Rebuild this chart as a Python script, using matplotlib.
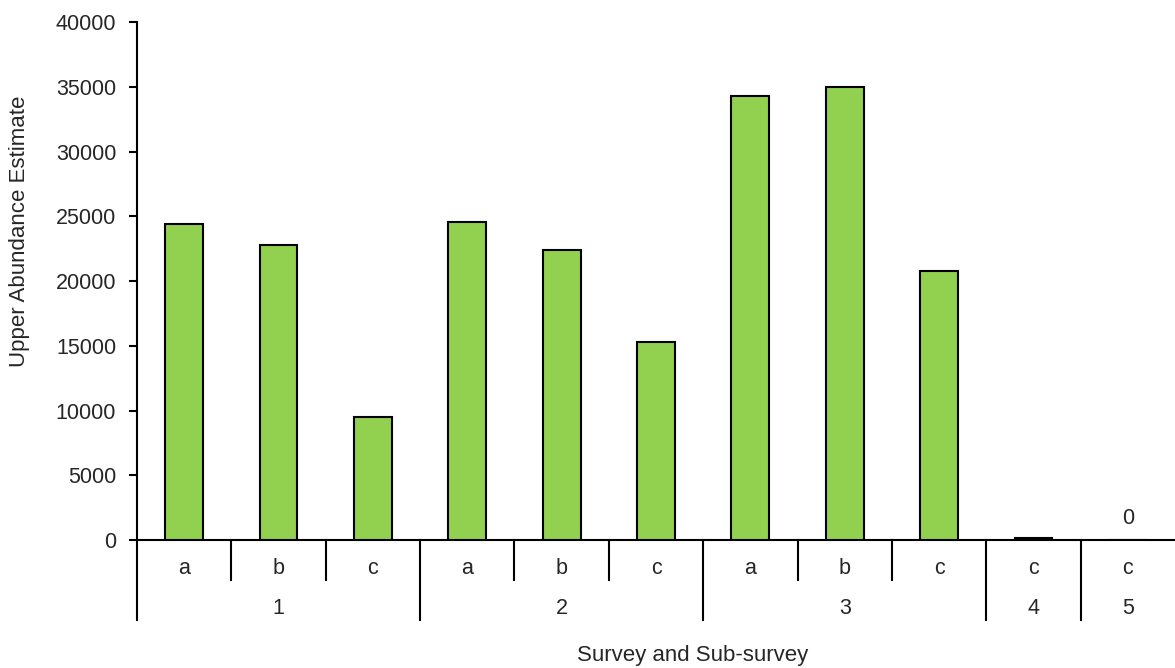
import matplotlib
matplotlib.use("Agg")
import matplotlib.pyplot as plt
from matplotlib.transforms import blended_transform_factory

plt.rcParams['font.family'] = ['Liberation Sans', 'DejaVu Sans']

surveys = ["1", "1", "1", "2", "2", "2", "3", "3", "3", "4", "5"]
subsurveys = ["a", "b", "c", "a", "b", "c", "a", "b", "c", "c", "c"]
values = [24400, 22750, 9500, 24550, 22400, 15300, 34300, 34950, 20750, 120, 0]
yticks = [0, 5000, 10000, 15000, 20000, 25000, 30000, 35000, 40000]

text_color = "#262626"
fs = 15.5
fig = plt.figure(figsize=(11.75, 6.68), dpi=100)
ax = fig.add_axes([137/1175, 1 - 540/668, 1 - 137/1175, (540 - 22)/668])

x = list(range(len(values)))
ax.bar(x, values, width=0.40, color="#92D050", edgecolor="black", linewidth=1.5, zorder=3)

ax.set_xlim(-0.5, len(values) - 0.5)
ax.set_ylim(0, 40000)
ax.set_yticks(yticks)
ax.set_yticklabels([str(v) for v in yticks], fontsize=fs, color=text_color)
ax.tick_params(axis='y', direction='out', length=6, width=1.5, pad=9)
ax.set_xticks([])

for s in ['top', 'right']:
    ax.spines[s].set_visible(False)
ax.spines['left'].set_linewidth(1.5)
ax.spines['bottom'].set_linewidth(1.5)

# zero label above the last bar
for i, v in enumerate(values):
    if v == 0:
        ax.annotate("0", (i, 0), xytext=(0, 22), textcoords='offset pixels',
                    ha='center', va='center', fontsize=fs, color=text_color)

trans = blended_transform_factory(ax.transData, ax.transAxes)
ax_h_px = 540 - 22
short = -40 / ax_h_px
long_ = -80 / ax_h_px

# subsurvey labels
for i, s in enumerate(subsurveys):
    ax.annotate(s, (i, 0), xycoords=trans, xytext=(0, -28), textcoords='offset pixels',
                ha='center', va='center', fontsize=fs, color=text_color)

# separators and group labels
n = len(values)
boundaries = []
start = 0
for i in range(1, n + 1):
    if i == n or surveys[i] != surveys[start]:
        center = (start + i - 1) / 2
        ax.annotate(surveys[start], (center, 0), xycoords=trans, xytext=(0, -68),
                    textcoords='offset pixels', ha='center', va='center',
                    fontsize=fs, color=text_color)
        boundaries.append(start - 0.5)
        start = i
for i in range(1, n):
    b = i - 0.5
    if b in boundaries:
        continue
    ax.plot([b, b], [0, short], transform=trans, color='black', lw=1.5, clip_on=False)
for b in boundaries:
    ax.plot([b, b], [0, long_], transform=trans, color='black', lw=1.5, clip_on=False)

fig.text(20/1175, 1 - 231/668, "Upper Abundance Estimate", rotation=90, ha='center',
         va='center', fontsize=16, color=text_color)
fig.text(693/1175, 1 - 656/668, "Survey and Sub-survey", ha='center', va='center',
         fontsize=16, color=text_color)

fig.savefig("out.png", dpi=100)
